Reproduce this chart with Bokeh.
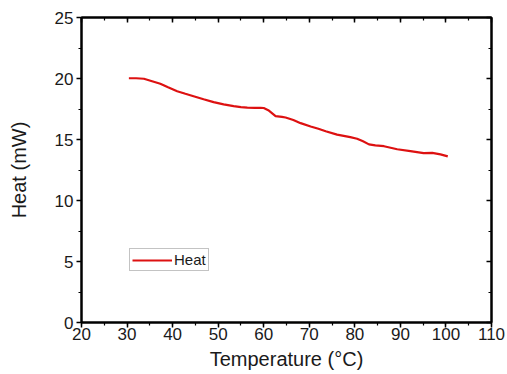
from bokeh.plotting import figure
from bokeh.models import LinearAxis, SingleIntervalTicker, Range1d, Legend, LegendItem, CustomJSTickFormatter
from bokeh.embed import file_html
from bokeh.resources import INLINE

temperature = [30.4, 32.0, 33.7, 35.5, 37.3, 39.0, 41.0, 42.8, 44.6, 46.8, 49.0, 51.2, 53.4,
               55.0, 56.4, 58.0, 59.3, 60.0, 61.0, 62.0, 62.6, 64.0, 64.8, 66.5, 68.1, 70.3,
               72.0, 73.6, 76.1, 79.0, 80.5, 81.8, 83.1, 84.5, 86.4, 89.3, 92.2, 95.1, 97.0,
               98.8, 100.4]
heat = [20.02, 20.02, 19.98, 19.78, 19.57, 19.28, 18.96, 18.75, 18.55, 18.3, 18.06, 17.88, 17.73,
        17.66, 17.62, 17.6, 17.6, 17.58, 17.4, 17.1, 16.92, 16.85, 16.8, 16.6, 16.34, 16.07,
        15.88, 15.68, 15.4, 15.19, 15.06, 14.85, 14.6, 14.52, 14.45, 14.2, 14.04, 13.88, 13.9,
        13.78, 13.62]

x_range = (20, 110)
y_range = (0, 25)
x_label = "Temperature (°C)"
y_label = "Heat (mW)"
series_name = "Heat"

FONT = "Liberation Sans"
TXT = "#1a1a1a"

p = figure(width=507, height=374, output_backend="svg", toolbar_location=None,
           x_range=Range1d(*x_range), y_range=Range1d(*y_range),
           x_axis_type=None, y_axis_type=None,
           min_border_left=81, min_border_right=16, min_border_top=17, min_border_bottom=52)
p.grid.visible = False
p.outline_line_color = "black"
p.outline_line_width = 2
p.background_fill_color = "white"
p.border_fill_color = "white"

xt = SingleIntervalTicker(interval=10, num_minor_ticks=2)
yt = SingleIntervalTicker(interval=5, num_minor_ticks=2)


def style(ax, show_labels, inward):
    ax.axis_line_color = "black"
    ax.axis_line_width = 2
    ax.major_tick_line_width = 1.5
    ax.minor_tick_line_width = 1.2
    ax.major_tick_line_color = "black"
    ax.minor_tick_line_color = "black"
    if inward:
        ax.major_tick_in = 5
        ax.major_tick_out = 0
        ax.minor_tick_in = 3
        ax.minor_tick_out = 0
    else:
        ax.major_tick_in = 0
        ax.major_tick_out = 5
        ax.minor_tick_in = 0
        ax.minor_tick_out = 3
    if show_labels:
        ax.major_label_text_font = FONT
        ax.major_label_text_font_size = "17px"
        ax.major_label_text_color = TXT
        ax.axis_label_text_font = FONT
        ax.axis_label_text_font_size = "20px"
        ax.axis_label_text_font_style = "normal"
        ax.axis_label_text_color = TXT
    else:
        ax.formatter = CustomJSTickFormatter(code="return '';")
        ax.major_label_standoff = 0


xb = LinearAxis(ticker=xt, axis_label=x_label)
style(xb, True, False)
xb.major_label_standoff = 0
xb.axis_label_standoff = 5
p.add_layout(xb, "below")

yl = LinearAxis(ticker=yt, axis_label=y_label)
style(yl, True, False)
yl.major_label_standoff = 3
yl.axis_label_standoff = 22
p.add_layout(yl, "left")

xa = LinearAxis(ticker=xt)
style(xa, False, True)
p.add_layout(xa, "above")

yr = LinearAxis(ticker=yt)
style(yr, False, True)
p.add_layout(yr, "right")

r = p.line(temperature, heat, line_color="#dd1111", line_width=2.2)

legend = Legend(items=[LegendItem(label=series_name, renderers=[r])],
                location=(48, 51), orientation="vertical")
legend.label_text_font = FONT
legend.label_text_font_size = "15px"
legend.label_text_color = TXT
legend.glyph_width = 40
legend.glyph_height = 16
legend.label_standoff = 2
legend.padding = 2
legend.margin = 0
legend.spacing = 0
legend.border_line_color = "#888888"
legend.border_line_width = 1
legend.label_height = 16
p.add_layout(legend, "center")

open("out.html", "w").write(file_html(p, INLINE))
